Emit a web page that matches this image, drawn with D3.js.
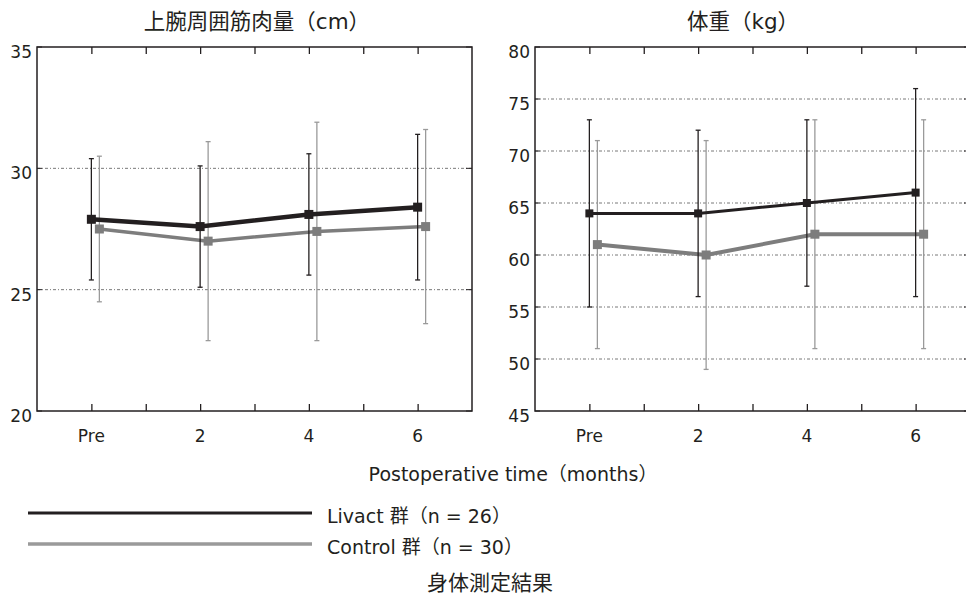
<!DOCTYPE html>
<meta charset="utf-8">
<script src="https://d3js.org/d3.v7.min.js"></script>
<style>
  body { margin: 0; background: #fff; }
  text { font-family: "DejaVu Sans", "Noto Sans CJK JP", sans-serif; fill: #231f20; }
  text.cjk { font-family: "Noto Sans CJK JP", sans-serif; }
</style>
<div id="chart"></div>
<script>

// data
var months = ["Pre", "2", "4", "6"];
var monthPos = [0, 2, 4, 6];

var armLivact = [27.9, 27.6, 28.1, 28.4];
var armLivactHi = [30.4, 30.1, 30.6, 31.4];
var armLivactLo = [25.4, 25.1, 25.6, 25.4];
var armControl = [27.5, 27.0, 27.4, 27.6];
var armControlHi = [30.5, 31.1, 31.9, 31.6];
var armControlLo = [24.5, 22.9, 22.9, 23.6];

var wtLivact = [64, 64, 65, 66];
var wtLivactHi = [73, 72, 73, 76];
var wtLivactLo = [55, 56, 57, 56];
var wtControl = [61, 60, 62, 62];
var wtControlHi = [71, 71, 73, 73];
var wtControlLo = [51, 49, 51, 51];

var armTicks = [20, 25, 30, 35];
var wtTicks = [45, 50, 55, 60, 65, 70, 75, 80];

var black = "#231f20", grey = "#7d7d7d", lightGrey = "#9a9a9a";

var svg = d3.select("#chart").append("svg")
  .attr("width", 966)
  .attr("height", 598);

function panel(opt) {
  var x = d3.scaleLinear().domain([-1, 7]).range([opt.left, opt.right]);
  var y = d3.scaleLinear().domain(opt.yDomain).range([411, 47]);
  var g = svg.append("g");

  // dotted grid lines
  g.selectAll(".grid")
    .data(opt.ticks.filter(function(t){ return t > opt.yDomain[0] && t < opt.yDomain[1]; }))
    .enter().append("line")
      .attr("x1", x(-1)).attr("x2", x(7))
      .attr("y1", function(d){ return y(d); })
      .attr("y2", function(d){ return y(d); })
      .style("stroke", "#555")
      .style("stroke-width", 0.8)
      .style("stroke-dasharray", "3,2,1,2");

  // inner y ticks
  opt.ticks.forEach(function(t) {
    g.append("line").attr("x1", x(-1)).attr("x2", x(-1) + 5)
      .attr("y1", y(t)).attr("y2", y(t)).style("stroke", black);
    g.append("line").attr("x1", x(7)).attr("x2", x(7) - 6)
      .attr("y1", y(t)).attr("y2", y(t)).style("stroke", black);
  });

  // frame
  g.append("rect")
    .attr("x", x(-1)).attr("y", y(opt.yDomain[1]))
    .attr("width", x(7) - x(-1)).attr("height", y(opt.yDomain[0]) - y(opt.yDomain[1]))
    .style("fill", "none").style("stroke", black).style("stroke-width", 1.5);

  // x ticks, pointing inward from top and bottom
  g.append("g").attr("transform", "translate(0,411)")
    .call(d3.axisBottom(x).tickValues(d3.range(0, 7)).tickSize(-7).tickFormat(""))
    .call(function(a){ a.select(".domain").remove(); a.selectAll("line").style("stroke", black).style("stroke-width", 1.3); });
  g.append("g").attr("transform", "translate(0,47)")
    .call(d3.axisTop(x).tickValues(d3.range(0, 7)).tickSize(-7).tickFormat(""))
    .call(function(a){ a.select(".domain").remove(); a.selectAll("line").style("stroke", black).style("stroke-width", 1.3); });

  // y labels
  g.selectAll(".ylab").data(opt.ticks).enter().append("text")
    .attr("x", x(-1) - 5)
    .attr("y", function(d){ return y(d) + 11; })
    .style("text-anchor", "end")
    .style("font-size", "17px")
    .text(function(d){ return d; });

  // x labels
  g.selectAll(".xlab").data(months).enter().append("text")
    .attr("x", function(d, i){ return x(monthPos[i]); })
    .attr("y", 442)
    .style("text-anchor", "middle")
    .style("font-size", "17px")
    .text(function(d){ return d; });

  // title
  g.append("text")
    .attr("x", opt.titleX).attr("y", 29)
    .style("text-anchor", "middle")
    .style("font-size", "21.5px")
    .text(opt.title);

  // series: error bars, line, markers
  opt.series.forEach(function(s) {
    var px = function(i){ return x(monthPos[i]) + s.dx; };
    var bars = g.append("g");
    s.values.forEach(function(v, i) {
      bars.append("line")
        .attr("x1", px(i)).attr("x2", px(i))
        .attr("y1", y(s.hi[i])).attr("y2", y(s.lo[i]))
        .style("stroke", s.barColor).style("stroke-width", 1.3);
      [s.hi[i], s.lo[i]].forEach(function(e) {
        bars.append("line")
          .attr("x1", px(i) - 2.5).attr("x2", px(i) + 2.5)
          .attr("y1", y(e)).attr("y2", y(e))
          .style("stroke", s.barColor).style("stroke-width", 1.3);
      });
    });
    g.append("path")
      .datum(s.values)
      .attr("d", d3.line().x(function(d, i){ return px(i); }).y(function(d){ return y(d); }))
      .style("fill", "none")
      .style("stroke", s.color)
      .style("stroke-width", s.width);
    g.selectAll(null).data(s.values).enter().append("rect")
      .attr("x", function(d, i){ return px(i) - s.size / 2; })
      .attr("y", function(d){ return y(d) - s.size / 2; })
      .attr("width", s.size).attr("height", s.size)
      .style("fill", s.color);
  });
}

panel({
  left: 37, right: 472, yDomain: [20, 35], ticks: armTicks,
  title: "上腕周囲筋肉量（cm）", titleX: 257,
  series: [
    { values: armControl, hi: armControlHi, lo: armControlLo, dx: 8, color: grey, barColor: lightGrey, width: 3.5, size: 9 },
    { values: armLivact, hi: armLivactHi, lo: armLivactLo, dx: 0, color: black, barColor: black, width: 4.5, size: 9 }
  ]
});

panel({
  left: 535, right: 970, yDomain: [45, 80], ticks: wtTicks,
  title: "体重（kg）", titleX: 743,
  series: [
    { values: wtControl, hi: wtControlHi, lo: wtControlLo, dx: 8, color: grey, barColor: lightGrey, width: 4, size: 9 },
    { values: wtLivact, hi: wtLivactHi, lo: wtLivactLo, dx: 0, color: black, barColor: black, width: 3, size: 8 }
  ]
});

// x axis title
svg.append("text")
  .attr("x", 513).attr("y", 481)
  .style("text-anchor", "middle")
  .style("font-size", "19px")
  .text("Postoperative time（months）");

// legend
var legend = [
  { name: "Livact 群（n = 26）", color: black, width: 3 },
  { name: "Control 群（n = 30）", color: lightGrey, width: 3.5 }
];
var ly = d3.scalePoint().domain(legend.map(function(d){ return d.name; })).range([513, 544]);
legend.forEach(function(d) {
  svg.append("line")
    .attr("x1", 28).attr("x2", 312)
    .attr("y1", ly(d.name)).attr("y2", ly(d.name))
    .style("stroke", d.color).style("stroke-width", d.width);
  svg.append("text")
    .attr("x", 327).attr("y", ly(d.name) + 10)
    .style("font-size", "19px")
    .text(d.name);
});

// caption
svg.append("text")
  .attr("class", "cjk")
  .attr("x", 490).attr("y", 590)
  .style("text-anchor", "middle")
  .style("font-size", "21px")
  .text("身体測定結果");

</script>
